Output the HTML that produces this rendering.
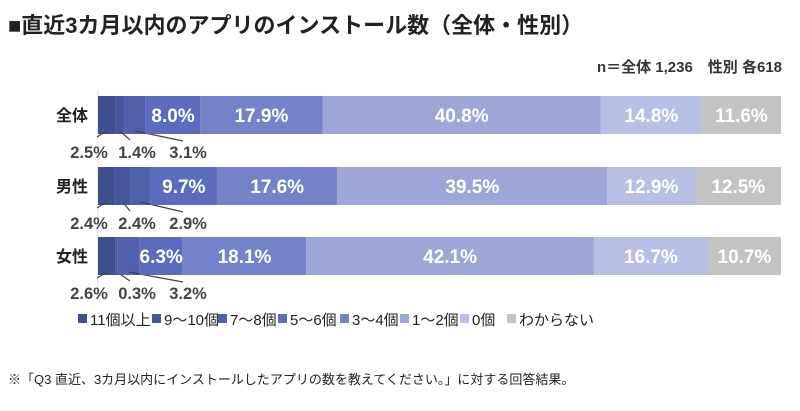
<!DOCTYPE html>
<html><head><meta charset="utf-8">
<style>
body{margin:0;width:800px;height:406px;background:#fff;font-family:"Liberation Sans","Noto Sans CJK JP",sans-serif;overflow:hidden}
</style></head>
<body>
<svg id="chart" width="800" height="406" xmlns="http://www.w3.org/2000/svg" font-family="Liberation Sans, Noto Sans CJK JP, sans-serif">
<text x="8" y="33" font-size="22" font-weight="bold" fill="#222">■直近3カ月以内のアプリのインストール数（全体・性別）</text>
<text x="782" y="72" font-size="15" font-weight="bold" fill="#333" text-anchor="end">n＝全体 1,236　性別 各618</text>
<line x1="98" y1="90" x2="98" y2="300" stroke="#ddd" stroke-width="1"/>
<g id="bars"></g>
<g id="legend"></g>
<text x="8" y="384" font-size="13" fill="#222">※「Q3 直近、3カ月以内にインストールしたアプリの数を教えてください。」に対する回答結果。</text>
</svg>
<script>
const categories = ["全体","男性","女性"];
const seriesNames = ["11個以上","9〜10個","7〜8個","5〜6個","3〜4個","1〜2個","0個","わからない"];
const values = [
  [2.5,1.4,3.1,8.0,17.9,40.8,14.8,11.6],
  [2.4,2.4,2.9,9.7,17.6,39.5,12.9,12.5],
  [2.6,0.3,3.2,6.3,18.1,42.1,16.7,10.7]
];
const colors = ["#3f4e8c","#46569c","#4f60ad","#5b6cbf","#7382c9","#9ea6d8","#b7bfe5","#c3c3c3"];
const NS="http://www.w3.org/2000/svg";
const x0=98,x1=781,rowY=[96,167,237],barH=38;
function xs(v){return (x1-x0)*v/100;}
function mk(tag,attrs,parent){const e=document.createElementNS(NS,tag);for(const k in attrs)e.setAttribute(k,attrs[k]);parent.appendChild(e);return e;}
const g=document.getElementById('bars');
const labX=[89,137,188], lineEndX=[97,130,183], lineEndDy=[3,6,7];
categories.forEach((c,i)=>{
  const y=rowY[i];
  const lab=mk('text',{x:x0-10,y:y+barH/2+6,'font-size':16,'font-weight':'bold',fill:'#222','text-anchor':'end'},g);
  
  
  lab.textContent=c;
  let cum=0;
  const total=values[i].reduce((a,b)=>a+b,0);
  values[i].forEach((v,j)=>{
    const w=xs(v*100/total), x=x0+xs(cum*100/total);
    const r=mk('rect',{x:x,y:y,width:w,height:barH,fill:colors[j]},g);
    
    
    if(j<3){
      const ln=mk('line',{x1:x+w/2,y1:y+barH-3,x2:lineEndX[j],y2:y+barH+lineEndDy[j],stroke:'#444','stroke-width':1.2},g);
      
      
      const t=mk('text',{x:labX[j],y:y+barH+24,'font-size':16.5,'font-weight':'bold',fill:'#444','text-anchor':'middle'},g);
      
      
      t.textContent=v.toFixed(1)+'%';
    } else {
      const t=mk('text',{x:x+w/2,y:y+barH/2+7,'font-size':19,'font-weight':'bold',fill:'#fff','text-anchor':'middle'},g);
      
      
      t.textContent=v.toFixed(1)+'%';
    }
    cum+=v;
  });
});
const lg=document.getElementById('legend');
const lx=[78,152,218,278,340,400,460,507];
seriesNames.forEach((n,j)=>{
  const e=mk('g',{},lg);
  
  
  mk('rect',{x:lx[j],y:314,width:9,height:9,fill:colors[j]},e);
  const t=mk('text',{x:lx[j]+12,y:325,'font-size':15,fill:'#222'},e);
  t.textContent=n;
});
</script>
</body></html>
